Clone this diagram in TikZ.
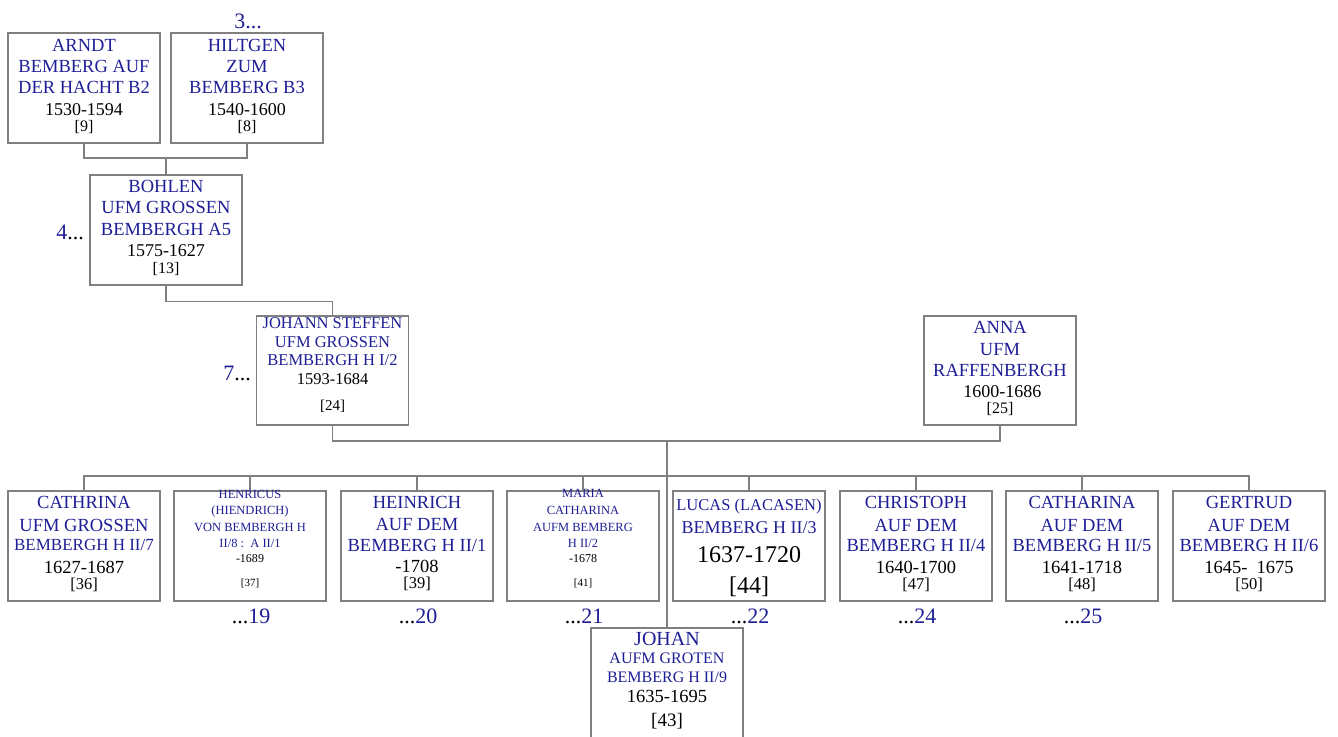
\documentclass[tikz,border=0pt]{standalone}
\usepackage{fontspec}
\setmainfont{Liberation Serif}
\definecolor{nblue}{RGB}{30,30,150}
\definecolor{lgray}{RGB}{128,128,128}
\newcommand\Nm[3]{{\fontsize{#1}{#2}\selectfont\leavevmode\textcolor{nblue}{#3}\par}}
\newcommand\Dt[3]{{\fontsize{#1}{#2}\selectfont\leavevmode #3\par}}
\newcommand\Pt[1]{\parbox[t]{176pt}{\centering #1}}
\newcommand\Lb[1]{\textcolor{nblue}{#1}}
\tikzset{
  pbox/.style={draw=lgray, line width=1.2pt, minimum width=152pt, minimum height=110pt, inner sep=0pt},
  txt/.style={anchor=base, inner sep=0pt},
  conn/.style={draw=lgray, line width=1.2pt},
  lbl/.style={inner sep=0pt, font=\fontsize{22}{24}\selectfont}
}
\begin{document}
\begin{tikzpicture}[x=1pt,y=-1pt]
\useasboundingbox (0,0) rectangle (1338,736);
% boxes
\node[pbox] (arndt) at (84,88) {};
\node[pbox] (hiltgen) at (247,88) {};
\node[pbox] (bohlen) at (166,230) {};
\node[pbox, minimum height=109pt] (johann) at (332.5,370.5) {};
\node[pbox, minimum height=109pt] (anna) at (1000,370.5) {};
\node[pbox] (c1) at (84,546) {};
\node[pbox] (c2) at (250,546) {};
\node[pbox] (c3) at (417,546) {};
\node[pbox] (c4) at (583,546) {};
\node[pbox] (c5) at (749,546) {};
\node[pbox] (c6) at (916,546) {};
\node[pbox] (c7) at (1082,546) {};
\node[pbox] (c8) at (1249,546) {};
\node[pbox] (johan) at (667,683) {};
% texts
\node[txt] (arndt-t) at (84,51) {\Pt{\Nm{18.5}{21}{ARNDT}\Nm{18.5}{21}{BEMBERG AUF}\Nm{18.5}{21.5}{DER HACHT B2}\Dt{18}{21.5}{1530-1594}\Dt{16}{16.5}{[9]}}};
\node[txt] (hiltgen-t) at (247,51) {\Pt{\Nm{18.5}{21}{HILTGEN}\Nm{18.5}{21}{ZUM}\Nm{18.5}{21.5}{BEMBERG B3}\Dt{18}{21.5}{1540-1600}\Dt{16}{16.5}{[8]}}};
\node[txt] (bohlen-t) at (166,192) {\Pt{\Nm{18.5}{21}{BOHLEN}\Nm{18.5}{21}{UFM GROSSEN}\Nm{18.5}{22}{BEMBERGH A5}\Dt{18}{21}{1575-1627}\Dt{16}{17}{[13]}}};
\node[txt] (johann-t) at (332.5,328) {\Pt{\Nm{16.5}{19}{JOHANN STEFFEN}\Nm{16.5}{19}{UFM GROSSEN}\Nm{16.5}{18}{BEMBERGH H I/2}\Dt{16.5}{19}{1593-1684}\Dt{15}{26}{[24]}}};
\node[txt] (anna-t) at (1000,333) {\Pt{\Nm{18.5}{22}{ANNA}\Nm{18.5}{22}{UFM}\Nm{18.5}{21}{RAFFENBERGH}\Dt{18}{21}{\ 1600-1686}\Dt{16}{16.5}{[25]}}};
\node[txt] (c1-t) at (84,508) {\Pt{\Nm{18.5}{21}{CATHRINA}\Nm{18.5}{23}{UFM GROSSEN}\Nm{17}{19}{BEMBERGH H II/7}\Dt{18.5}{23}{1627-1687}\Dt{16.5}{16}{[36]}}};
\node[txt] (c2-t) at (250,498) {\Pt{\Nm{12.5}{16}{HENRICUS}\Nm{12.5}{16.5}{(HIENDRICH)}\Nm{12.5}{16.5}{VON BEMBERGH H}\Nm{12.5}{16}{II/8 :\ \ A II/1}\Dt{12}{15}{-1689}\Dt{11}{24.5}{[37]}}};
\node[txt] (c3-t) at (417,508) {\Pt{\Nm{18.5}{21}{HEINRICH}\Nm{18.5}{22}{AUF DEM}\Nm{18.5}{21}{BEMBERG H II/1}\Dt{18.5}{21}{-1708}\Dt{16.5}{16.5}{[39]}}};
\node[txt] (c4-t) at (583,497) {\Pt{\Nm{12.5}{16}{MARIA}\Nm{12.5}{17}{CATHARINA}\Nm{12.5}{17}{AUFM BEMBERG}\Nm{12.5}{16}{H II/2}\Dt{12}{15}{-1678}\Dt{11}{24}{[41]}}};
\node[txt] (c5-t) at (749,510) {\Pt{\Nm{16.5}{19}{LUCAS (LACASEN)}\Nm{18}{23}{BEMBERG H II/3}\Dt{24}{29}{1637-1720}\Dt{24}{31}{[44]}}};
\node[txt] (c6-t) at (916,508) {\Pt{\Nm{18.5}{21}{CHRISTOPH}\Nm{18.5}{23}{AUF DEM}\Nm{18.5}{20}{BEMBERG H II/4}\Dt{18.5}{22}{1640-1700}\Dt{16.5}{16}{[47]}}};
\node[txt] (c7-t) at (1082,508) {\Pt{\Nm{18.5}{21}{CATHARINA}\Nm{18.5}{23}{AUF DEM}\Nm{18.5}{20}{BEMBERG H II/5}\Dt{18.5}{22}{1641-1718}\Dt{16.5}{16}{[48]}}};
\node[txt] (c8-t) at (1249,508) {\Pt{\Nm{18.5}{21}{GERTRUD}\Nm{18.5}{23}{AUF DEM}\Nm{18.5}{20}{BEMBERG H II/6}\Dt{18.5}{22}{1645-\ \ 1675}\Dt{16.5}{16}{[50]}}};
\node[txt] (johan-t) at (667,645) {\Pt{\Nm{20}{18}{JOHAN}\Nm{16}{18}{AUFM GROTEN}\Nm{16}{19}{BEMBERG H II/9}\Dt{18.5}{20}{1635-1695}\Dt{19}{24}{[43]}}};
% labels
\node[lbl, anchor=base] (l3) at (248,28) {\Lb{3...}};
\node[lbl, anchor=base east] (l4) at (84,239) {\Lb{4}...};
\node[lbl, anchor=base east] (l7) at (251,380) {\Lb{7}...};
\node[lbl, anchor=base] (l19) at (251,623) {...\Lb{19}};
\node[lbl, anchor=base] (l20) at (418,623) {...\Lb{20}};
\node[lbl, anchor=base] (l21) at (584,623) {...\Lb{21}};
\node[lbl, anchor=base] (l22) at (750,623) {...\Lb{22}};
\node[lbl, anchor=base] (l24) at (917,623) {...\Lb{24}};
\node[lbl, anchor=base] (l25) at (1083,623) {...\Lb{25}};
% connectors
\coordinate (j1) at (166,158);
\coordinate (j2) at (667,441);
\coordinate (bar) at (667,476);
\draw[conn] (arndt.south) |- (j1) -| (hiltgen.south);
\draw[conn] (j1) -- (bohlen.north);
\draw[conn] (bohlen.south) -- ++(0,16) -| (johann.north);
\draw[conn] (johann.south) |- (j2) -| (anna.south);
\draw[conn] (j2) -- (johan.north);
\draw[conn] (c1.north) |- (bar) -| (c8.north);
\foreach \c in {c2,c3,c4,c5,c6,c7} \draw[conn] (\c.north) -- (\c.north |- bar);
\end{tikzpicture}
\end{document}
